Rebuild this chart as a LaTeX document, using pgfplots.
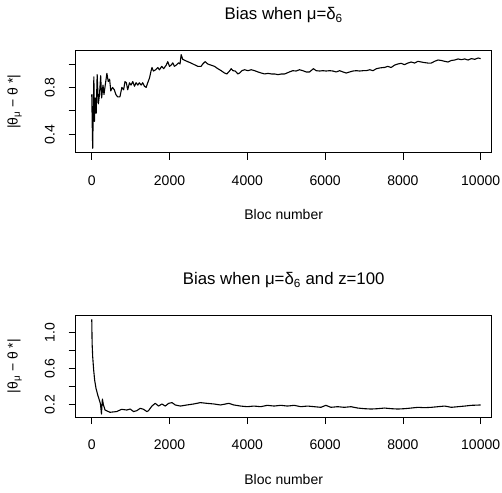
\documentclass[border=0pt]{standalone}
\usepackage{fontspec}
\setmainfont{Liberation Sans}
\usepackage{pgfplots}
\pgfplotsset{compat=1.18}
\newcommand{\lbl}{\fontsize{14pt}{16pt}\selectfont}
\newcommand{\ttl}{\fontsize{16.8pt}{19pt}\selectfont}
\begin{document}
\begin{tikzpicture}
\useasboundingbox (0,0) rectangle (502pt,492pt);
\pgfplotsset{
  rstyle/.style={
    scale only axis, width=416pt, anchor=south west,
    xmin=-412, xmax=10284,
    xtick={0,2000,4000,6000,8000,10000},
    xticklabels={0,2000,4000,6000,8000,10000},
    scaled x ticks=false, scaled y ticks=false,
    tick align=outside, major tick length=7pt,
    tick pos=left,
    axis line style={line width=0.75pt},
    every tick/.style={black, line width=0.75pt},
    tick label style={font=\lbl},
    xticklabel shift=12.6pt,
    yticklabel style={rotate=90, anchor=south},
    yticklabel shift=10.5pt,
    every axis title/.style={at={(axis description cs:0.5,1)}, anchor=base, yshift=31pt, font=\ttl},
    every axis x label/.style={at={(axis description cs:0.5,0)}, anchor=base, yshift=-67pt, font=\lbl},
    every axis y label/.style={at={([xshift=-58pt]axis description cs:0,0.5)}, rotate=90, anchor=base, font=\lbl},
    xlabel={Bloc number},
    ylabel={|θ\textsubscript{μ} − θ *|},
  }
}
\begin{axis}[rstyle, at={(75.7pt,339.3pt)}, height=102pt,
  ymin=0.243, ymax=1.1135,
  ytick={0.4,0.6,0.8,1.0}, yticklabels={0.4,,0.8,},
  title={Bias when μ=δ\textsubscript{6}}]
\addplot[black, line width=1.1pt, line join=round] coordinates {
(1,0.74) (15,0.45) (25,0.28) (40,0.62) (55,0.89) (70,0.51) (90,0.71) (115,0.58)
(140,0.91) (170,0.66) (200,0.74) (230,0.90) (255,0.71) (290,0.82) (315,0.74)
(360,0.85) (390,0.92) (425,0.85) (460,0.87) (490,0.77) (535,0.80) (580,0.78)
(620,0.74) (665,0.72) (725,0.72) (775,0.80) (820,0.78) (855,0.85) (890,0.84)
(925,0.78) (970,0.84) (1010,0.82) (1055,0.85) (1100,0.81) (1140,0.84) (1185,0.82)
(1225,0.84) (1270,0.82) (1310,0.84) (1355,0.81) (1400,0.80) (1440,0.84) (1485,0.88)
(1525,0.94) (1550,0.97) (1585,0.94) (1640,0.95) (1700,0.97) (1740,0.95) (1800,0.98)
(1850,0.96) (1915,0.99) (1955,1.02) (2000,0.98) (2040,0.99) (2085,1.01) (2125,0.98)
(2170,0.99) (2230,1.01) (2270,1.00) (2300,1.08) (2340,1.04) (2400,1.03) (2468,1.02)
(2554,1.008) (2640,0.994) (2726,0.98) (2812,0.98) (2855,1.0) (2915,1.02) (2984,1.0)
(3070,0.99) (3156,0.98) (3242,0.96) (3328,0.943) (3414,0.923) (3474,0.915) (3543,0.94)
(3586,0.96) (3629,0.943) (3690,0.94) (3758,0.915) (3801,0.923) (3861,0.943) (3930,0.951)
(4016,0.943) (4102,0.951) (4188,0.943) (4274,0.932) (4360,0.923) (4446,0.915) (4532,0.92)
(4618,0.915) (4704,0.915) (4790,0.909) (4876,0.915) (4962,0.915) (5083,0.932) (5169,0.943)
(5255,0.94) (5341,0.951) (5427,0.943) (5513,0.932) (5599,0.932) (5700,0.96) (5771,0.943)
(5857,0.94) (5943,0.943) (6029,0.94) (6115,0.943) (6201,0.94) (6287,0.932) (6373,0.943)
(6459,0.932) (6545,0.923) (6631,0.932) (6717,0.94) (6803,0.943) (6889,0.94) (6975,0.943)
(7061,0.943) (7147,0.951) (7233,0.943) (7319,0.96) (7405,0.966) (7491,0.97) (7526,0.97)
(7612,0.98) (7698,0.97) (7784,0.99) (7870,1.0) (7956,1.006) (8042,0.994) (8128,1.008)
(8214,1.017) (8300,1.008) (8386,1.023) (8472,1.017) (8558,1.012) (8644,1.008) (8730,1.008)
(8816,1.023) (8902,1.034) (8988,1.03) (9074,1.023) (9160,1.017) (9246,1.03) (9332,1.034)
(9418,1.043) (9504,1.037) (9590,1.043) (9676,1.034) (9762,1.046) (9848,1.04) (9934,1.051)
(10000,1.046)
};
\end{axis}
\begin{axis}[rstyle, at={(75.7pt,75pt)}, height=101.5pt,
  ymin=0.064, ymax=1.186,
  ytick={0.2,0.4,0.6,0.8,1.0}, yticklabels={0.2,,0.6,,1.0},
  title={Bias when μ=δ\textsubscript{6} and z=100}]
\addplot[black, line width=1.1pt, line join=round] coordinates {
(1,1.144) (10,0.878) (25,0.73) (50,0.583) (75,0.473) (110,0.381) (155,0.307)
(195,0.252) (225,0.208) (250,0.097) (274,0.263) (300,0.2) (343,0.141) (470,0.116)
(640,0.124) (770,0.149) (900,0.141) (990,0.152) (1075,0.124) (1160,0.134) (1246,0.16)
(1333,0.149) (1419,0.124) (1460,0.134) (1547,0.185) (1633,0.215) (1719,0.185) (1805,0.208)
(1891,0.185) (1977,0.215) (2063,0.223) (2149,0.197) (2278,0.185) (2450,0.197) (2622,0.208)
(2794,0.223) (2966,0.215) (3139,0.208) (3311,0.197) (3526,0.215) (3655,0.197) (3827,0.185)
(3999,0.178) (4171,0.185) (4343,0.178) (4516,0.193) (4688,0.185) (4860,0.193) (5032,0.185)
(5204,0.193) (5376,0.178) (5548,0.185) (5720,0.178) (5892,0.171) (6021,0.193) (6150,0.171)
(6322,0.178) (6494,0.171) (6666,0.178) (6838,0.163) (7010,0.156) (7182,0.152) (7355,0.156)
(7527,0.163) (7699,0.156) (7871,0.152) (8043,0.156) (8215,0.163) (8387,0.171) (8559,0.167)
(8731,0.171) (8903,0.178) (9075,0.185) (9247,0.171) (9419,0.178) (9591,0.185) (9763,0.193)
(10000,0.197)
};
\end{axis}
\end{tikzpicture}
\end{document}
